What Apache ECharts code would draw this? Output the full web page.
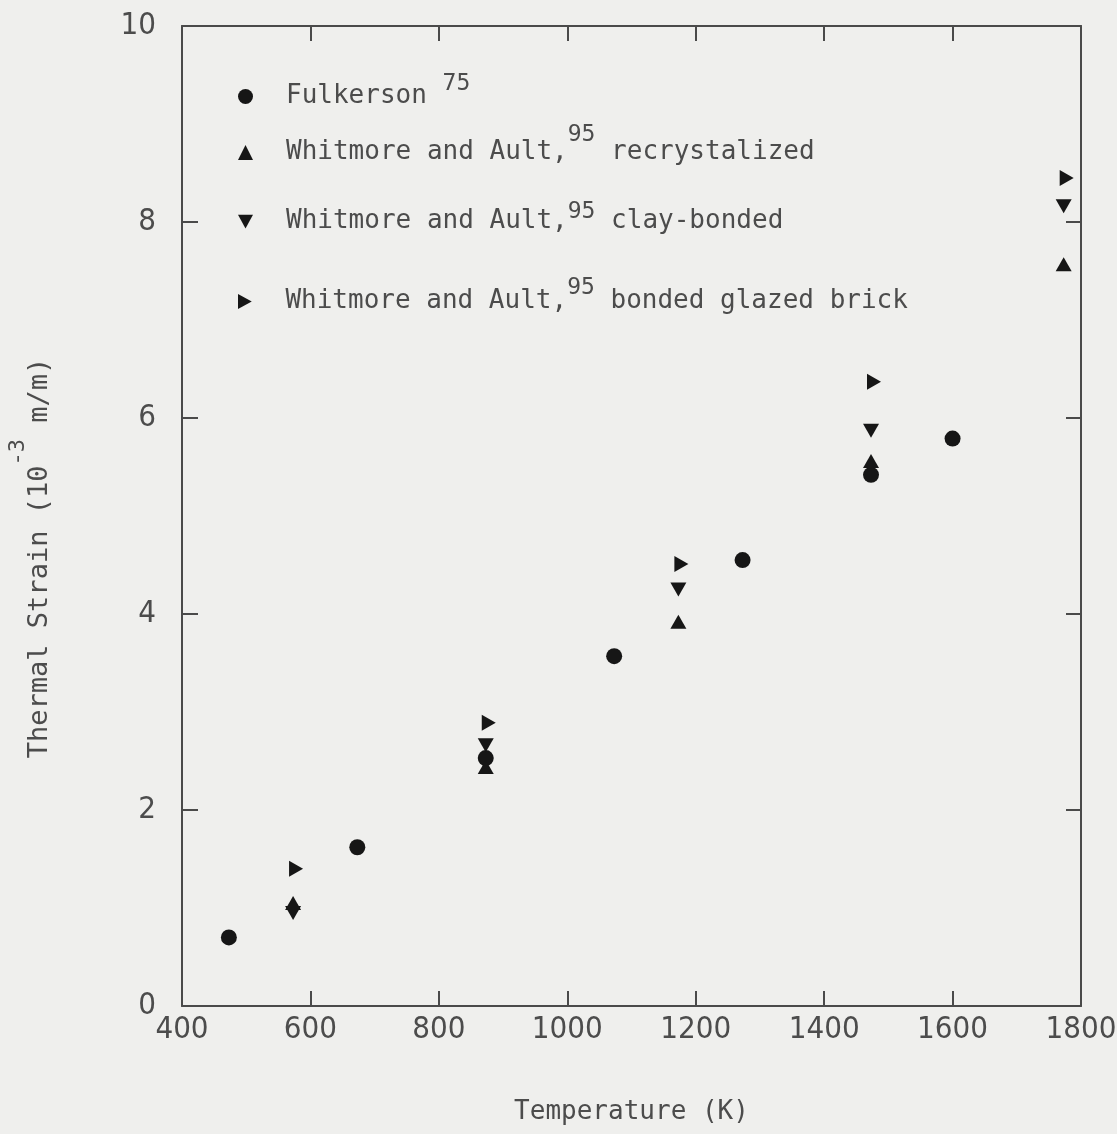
<!DOCTYPE html>
<html>
<head>
<meta charset="utf-8">
<title>Thermal Strain vs Temperature</title>
<script src="https://cdn.jsdelivr.net/npm/echarts@6/dist/echarts.min.js"></script>
<style>
  html, body { margin: 0; padding: 0; background: #efefed; }
  #chart { width: 1117px; height: 1134px; }
</style>
</head>
<body>
<div id="chart"></div>
<script>
// Fulkerson measurements (temperature in K, strain in 1e-3 m/m)
const fulkersonTemp = [473, 673, 873, 1073, 1273, 1473, 1600];
const fulkersonStrain = [0.70, 1.62, 2.53, 3.57, 4.55, 5.42, 5.79];

// Whitmore and Ault measurements share one temperature set
const whitmoreTemp = [573, 873, 1173, 1473, 1773];
const recrystalizedStrain = [1.05, 2.44, 3.92, 5.56, 7.57];
const clayBondedStrain = [0.95, 2.66, 4.25, 5.87, 8.16];
const glazedBrickStrain = [1.40, 2.89, 4.51, 6.37, 8.45];

// Axis ranges
const xMin = 400, xMax = 1800, xStep = 200;
const yMin = 0, yMax = 10, yStep = 2;

const seriesNames = [
  'Fulkerson',
  'Whitmore and Ault, recrystalized',
  'Whitmore and Ault, clay-bonded',
  'Whitmore and Ault, bonded glazed brick'
];

const MONO = "'DejaVu Sans Mono', 'Liberation Mono', monospace";
const NARROW = "'Liberation Sans Narrow', 'DejaVu Sans Condensed', 'Liberation Sans', sans-serif";
const INK = '#161616';
const TEXT = '#4c4c4c';
const LINE = '#4a4a4a';

const downTri = 'path://M0,0L12,0L6,11Z';
const rightTri = 'path://M0,0L11,6L0,12Z';

function zip(xs, ys) { return xs.map((x, i) => [x, ys[i]]); }

const legendLabels = {
  'Fulkerson': '{m|Fulkerson }{s1|75}',
  'Whitmore and Ault, recrystalized': '{m|Whitmore and Ault,}{s2|95}{m| recrystalized}',
  'Whitmore and Ault, clay-bonded': '{m|Whitmore and Ault,}{s3|95}{m| clay-bonded}',
  'Whitmore and Ault, bonded glazed brick': '{m|Whitmore and Ault,}{s4|95}{m| bonded glazed brick}'
};
const legendIcons = ['circle', 'triangle', downTri, rightTri];
const legendRowY = [98, 149, 226, 302];

const legendRich = {
  m:  { fontFamily: MONO, fontSize: 26, color: TEXT, lineHeight: 50 },
  s1: { fontFamily: MONO, fontSize: 23, color: TEXT, padding: [0, 0, 24, 0] },
  s2: { fontFamily: MONO, fontSize: 23, color: TEXT, padding: [0, 0, 34, 0] },
  s3: { fontFamily: MONO, fontSize: 23, color: TEXT, padding: [0, 0, 18, 0] },
  s4: { fontFamily: MONO, fontSize: 23, color: TEXT, padding: [0, 0, 26, 0] }
};

const legends = seriesNames.map((name, i) => ({
  data: [{ name: name, icon: legendIcons[i] }],
  left: 233,
  top: legendRowY[i] - 30,
  itemWidth: 15,
  itemHeight: 15,
  selectedMode: false,
  formatter: n => legendLabels[n],
  itemStyle: { opacity: 1 },
  textStyle: { rich: legendRich, padding: [0, 0, 0, 28] }
}));

const axisLineStyle = { color: LINE, width: 2 };
const plainNumber = v => String(v);

const chart = echarts.init(document.getElementById('chart'), null, { renderer: 'canvas' });
chart.setOption({
  backgroundColor: '#efefed',
  animation: false,
  grid: { left: 182, right: 36, top: 26, bottom: 128, outerBoundsMode: 'none' },
  legend: legends,
  xAxis: [
    {
      type: 'value', min: xMin, max: xMax, interval: xStep, position: 'bottom',
      axisLine: { show: true, onZero: false, lineStyle: axisLineStyle },
      axisTick: { show: true, inside: true, length: 15, lineStyle: axisLineStyle },
      axisLabel: { margin: 8, fontFamily: NARROW, fontSize: 31, color: TEXT, formatter: plainNumber },
      splitLine: { show: false },
      name: 'Temperature (K)', nameLocation: 'middle', nameGap: 93,
      nameTextStyle: { fontFamily: MONO, fontSize: 26, color: TEXT }
    },
    {
      type: 'value', min: xMin, max: xMax, interval: xStep, position: 'top',
      axisLine: { show: true, onZero: false, lineStyle: axisLineStyle },
      axisTick: { show: true, inside: true, length: 15, lineStyle: axisLineStyle },
      axisLabel: { show: false },
      splitLine: { show: false }
    }
  ],
  yAxis: [
    {
      type: 'value', min: yMin, max: yMax, interval: yStep, position: 'left',
      axisLine: { show: true, onZero: false, lineStyle: axisLineStyle },
      axisTick: { show: true, inside: true, length: 16, lineStyle: axisLineStyle },
      axisLabel: { margin: 26, fontFamily: NARROW, fontSize: 31, color: TEXT, formatter: plainNumber },
      splitLine: { show: false },
      name: '{m|Thermal Strain (10}{s|-3}{m| m/m)}',
      nameLocation: 'middle', nameRotate: 90, nameGap: 109,
      nameTextStyle: {
        padding: [0, 84, 0, 0],
        rich: {
          m: { fontFamily: MONO, fontSize: 27, color: TEXT },
          s: { fontFamily: MONO, fontSize: 22, color: TEXT, padding: [0, 0, 44, 0] }
        }
      }
    },
    {
      type: 'value', min: yMin, max: yMax, interval: yStep, position: 'right',
      axisLine: { show: true, onZero: false, lineStyle: axisLineStyle },
      axisTick: { show: true, inside: true, length: 15, lineStyle: axisLineStyle },
      axisLabel: { show: false },
      splitLine: { show: false }
    }
  ],
  series: [
    {
      name: seriesNames[0], type: 'scatter', xAxisIndex: 0, yAxisIndex: 0,
      symbol: 'circle', symbolSize: 16,
      itemStyle: { color: INK, opacity: 1 },
      data: zip(fulkersonTemp, fulkersonStrain)
    },
    {
      name: seriesNames[1], type: 'scatter', xAxisIndex: 0, yAxisIndex: 0,
      symbol: 'triangle', symbolSize: [16, 14],
      itemStyle: { color: INK, opacity: 1 },
      data: zip(whitmoreTemp, recrystalizedStrain)
    },
    {
      name: seriesNames[2], type: 'scatter', xAxisIndex: 0, yAxisIndex: 0,
      symbol: downTri, symbolSize: [16, 14],
      itemStyle: { color: INK, opacity: 1 },
      data: zip(whitmoreTemp, clayBondedStrain)
    },
    {
      name: seriesNames[3], type: 'scatter', xAxisIndex: 0, yAxisIndex: 0,
      symbol: rightTri, symbolSize: [14, 16], symbolOffset: [3, 0],
      itemStyle: { color: INK, opacity: 1 },
      data: zip(whitmoreTemp, glazedBrickStrain)
    }
  ]
});
</script>
</body>
</html>
